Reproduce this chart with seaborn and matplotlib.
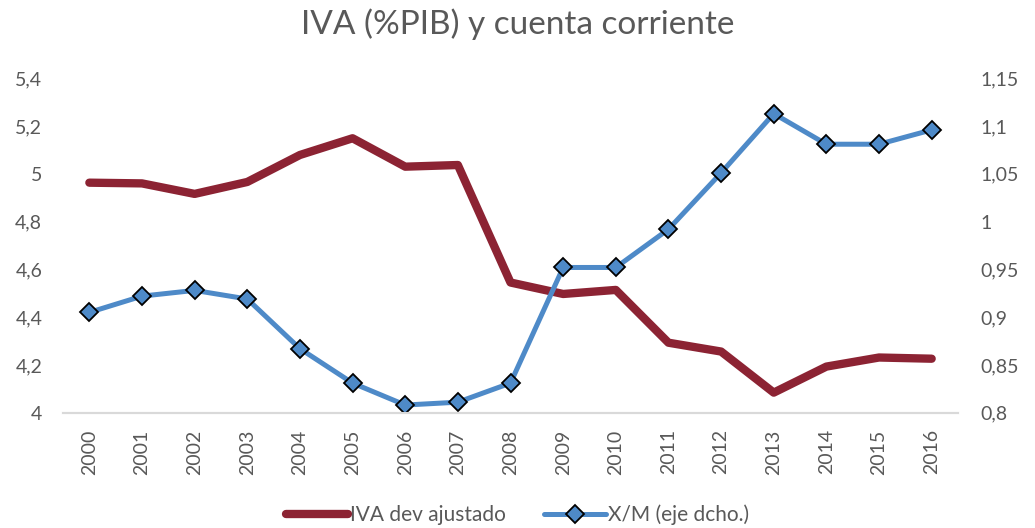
import matplotlib
matplotlib.use("Agg")
import matplotlib.pyplot as plt
import matplotlib.ticker as mticker
import pandas as pd
import seaborn as sb

# data
years = list(range(2000, 2017))
iva = [4.963, 4.960, 4.916, 4.966, 5.079, 5.149, 5.030, 5.037, 4.545,
       4.497, 4.514, 4.293, 4.256, 4.084, 4.193, 4.231, 4.226]
xm = [0.905, 0.922, 0.928, 0.919, 0.867, 0.831, 0.808, 0.811, 0.831,
      0.952, 0.952, 0.992, 1.051, 1.113, 1.081, 1.081, 1.096]
left_ticks = [4.0, 4.2, 4.4, 4.6, 4.8, 5.0, 5.2, 5.4]
right_ticks = [0.8, 0.85, 0.9, 0.95, 1.0, 1.05, 1.1, 1.15]

df = pd.DataFrame({'year': years, 'IVA dev ajustado': iva, 'X/M (eje dcho.)': xm})

sb.set_style("white")
plt.rcParams['font.family'] = ['Lato', 'DejaVu Sans']

red = '#8c2333'
blue = '#4e8ac8'
grey = '#595959'


def comma(v, pos):
    return ('%g' % v).replace('.', ',')


fig = plt.figure(figsize=(10.35, 5.28), dpi=100)
ax = fig.add_axes([0.0609, 0.2184, 0.8647, 0.6333])
ax2 = ax.twinx()

sb.lineplot(data=df, x='year', y='IVA dev ajustado', ax=ax, color=red,
            linewidth=6, solid_capstyle='round', label='IVA dev ajustado', legend=False)
sb.lineplot(data=df, x='year', y='X/M (eje dcho.)', ax=ax2, color=blue,
            linewidth=3.6, marker='D', markersize=9, markerfacecolor=blue,
            markeredgecolor='black', markeredgewidth=1.3,
            label='X/M (eje dcho.)', legend=False)

ax.set_xlim(1999.5, 2016.5)
ax.set_ylim(4.0, 5.4)
ax2.set_ylim(0.8, 1.15)
ax.set_xticks(years)
ax.set_xticklabels([str(y) for y in years], rotation=90)
ax.set_yticks(left_ticks)
ax2.set_yticks(right_ticks)
ax.yaxis.set_major_formatter(mticker.FuncFormatter(comma))
ax2.yaxis.set_major_formatter(mticker.FuncFormatter(comma))
ax.set_xlabel('')
ax.set_ylabel('')
ax2.set_ylabel('')

ax.tick_params(axis='x', length=0, pad=12, labelsize=14, labelcolor=grey)
ax.tick_params(axis='y', length=0, pad=15, labelsize=14, labelcolor=grey)
ax2.tick_params(axis='y', length=0, pad=16, labelsize=14, labelcolor=grey)

for a in (ax, ax2):
    for s in ['top', 'left', 'right']:
        a.spines[s].set_visible(False)
    a.spines['bottom'].set_color('#d9d9d9')
    a.spines['bottom'].set_linewidth(1.5)
    a.grid(False)

fig.suptitle('IVA (%PIB) y cuenta corriente', x=0.5, y=0.985, fontsize=24,
             color=grey, fontweight='normal')

h1, l1 = ax.get_legend_handles_labels()
h2, l2 = ax2.get_legend_handles_labels()
leg = fig.legend(h1 + h2, l1 + l2, loc='lower center', bbox_to_anchor=(0.5, -0.03),
                 ncol=2, frameon=False, fontsize=15, handlelength=3.0,
                 columnspacing=1.8, handletextpad=0.1)
for t in leg.get_texts():
    t.set_color(grey)

fig.savefig('out.png', dpi=100)
